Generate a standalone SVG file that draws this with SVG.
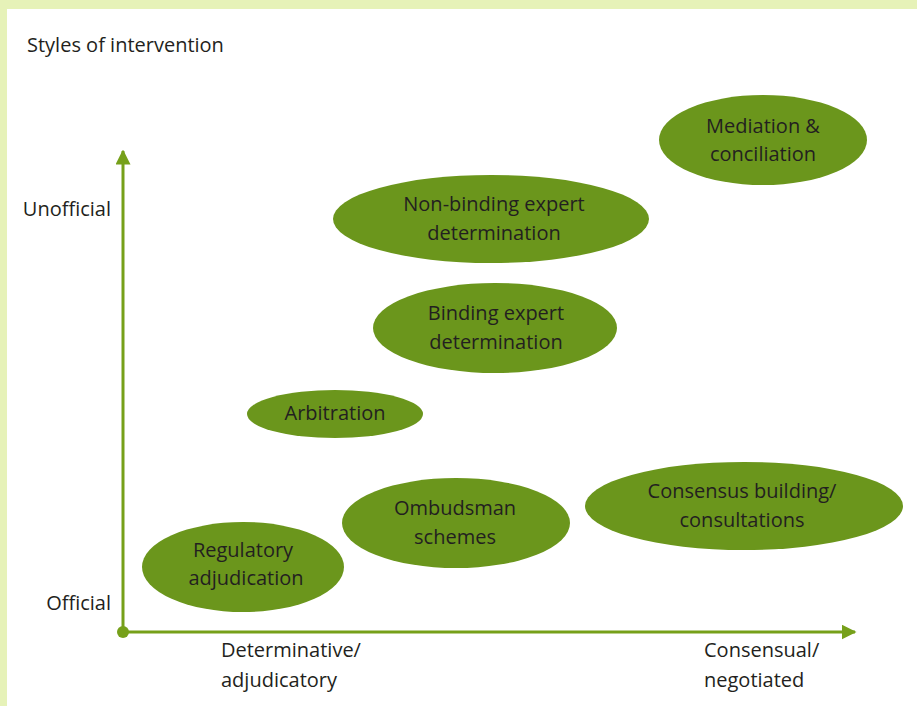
<svg xmlns="http://www.w3.org/2000/svg" width="917" height="706" viewBox="0 0 917 706">
  <style>
    text { font-family: "Open Sans", "Liberation Sans", sans-serif; font-size: 20px; fill: #231f20; }
    .c { text-anchor: middle; }
    .r { text-anchor: end; }
    .blob { fill: #6b961c; }
    .axis { stroke: #76a01a; stroke-width: 3; fill: none; }
  </style>
  <defs>
    <marker id="arrow" viewBox="0 0 10 10" refX="9" refY="5" markerWidth="5" markerHeight="5" orient="auto" markerUnits="strokeWidth">
      <path d="M0,0 L10,5 L0,10 Z" fill="#76a01a"/>
    </marker>
  </defs>

  <!-- panel background with tinted frame -->
  <rect x="0" y="0" width="917" height="706" fill="#e6f2b8"/>
  <rect x="7" y="9" width="910" height="697" fill="#ffffff"/>

  <text x="27" y="52">Styles of intervention</text>

  <!-- axes -->
  <g id="axes">
    <line class="axis" x1="123" y1="632" x2="123" y2="151" marker-end="url(#arrow)"/>
    <line class="axis" x1="123" y1="632" x2="855" y2="632" marker-end="url(#arrow)"/>
    <circle cx="123" cy="632" r="6" fill="#76a01a"/>
  </g>

  <text class="r" x="111" y="216">Unofficial</text>
  <text class="r" x="111" y="610">Official</text>
  <text x="221" y="657">Determinative/</text>
  <text x="221" y="687">adjudicatory</text>
  <text x="704" y="657">Consensual/</text>
  <text x="704" y="687">negotiated</text>

  <g id="mediation">
    <ellipse class="blob" cx="763" cy="140" rx="104" ry="45"/>
    <text class="c" x="763" y="133">Mediation &amp;</text>
    <text class="c" x="763" y="161">conciliation</text>
  </g>
  <g id="non-binding">
    <ellipse class="blob" cx="491" cy="219" rx="158" ry="44"/>
    <text class="c" x="494" y="211">Non-binding expert</text>
    <text class="c" x="494" y="240">determination</text>
  </g>
  <g id="binding">
    <ellipse class="blob" cx="495" cy="328" rx="122" ry="45"/>
    <text class="c" x="496" y="320">Binding expert</text>
    <text class="c" x="496" y="349">determination</text>
  </g>
  <g id="arbitration">
    <ellipse class="blob" cx="335" cy="414" rx="88" ry="24"/>
    <text class="c" x="335" y="420">Arbitration</text>
  </g>
  <g id="ombudsman">
    <ellipse class="blob" cx="456" cy="523" rx="114" ry="45"/>
    <text class="c" x="455" y="515">Ombudsman</text>
    <text class="c" x="455" y="544">schemes</text>
  </g>
  <g id="consensus">
    <ellipse class="blob" cx="744" cy="506" rx="159" ry="44"/>
    <text class="c" x="742" y="498">Consensus building/</text>
    <text class="c" x="742" y="527">consultations</text>
  </g>
  <g id="regulatory">
    <ellipse class="blob" cx="243" cy="567" rx="101" ry="45"/>
    <text class="c" x="243" y="557">Regulatory</text>
    <text class="c" x="246" y="585">adjudication</text>
  </g>
</svg>
